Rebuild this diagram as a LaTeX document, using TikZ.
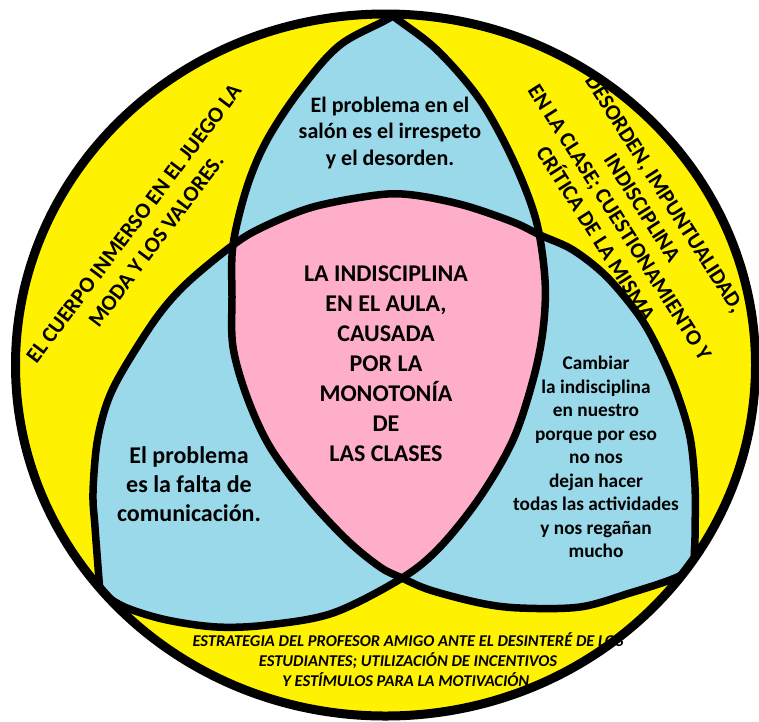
\documentclass[tikz,border=0pt]{standalone}
\usepackage{fontspec}
\setmainfont{Carlito}
\definecolor{vyellow}{RGB}{255,242,0}
\definecolor{vblue}{RGB}{153,217,234}
\definecolor{vpink}{RGB}{255,174,201}
\begin{document}
\begin{tikzpicture}[x=1pt,y=-1pt,
  outline/.style={line width=7.5pt,line join=round},
  rimline/.style={line width=9pt},
  txt/.style={align=center,inner sep=0pt,font=\bfseries},
]
\useasboundingbox (0,0) rectangle (759,721);
\def\outerpath{(385.5,365) ellipse [x radius=370pt, y radius=351pt]}
\def\Lpath{plot[smooth cycle,tension=0.55] coordinates {(393,16) (437,50) (480,100) (513,160) (536,220) (545,280) (543,330) (533,380) (513,440) (480,497) (440,547) (402,578) (333,613) (267,625) (217,627) (167,620) (127,608) (100,593) (40,560) (-30,470) (-60,320) (-40,150) (60,10) (220,-60) (340,-25)}}
\def\Rpath{plot[smooth cycle,tension=0.55] coordinates {(393,16) (340,45) (300,90) (267,140) (247,187) (233,245) (232,297) (233,347) (247,397) (270,447) (307,497) (347,540) (380,567) (402,578) (430,590) (480,603) (520,608) (580,607) (630,593) (670,580) (695,568) (745,540) (810,440) (830,300) (790,140) (680,20) (530,-40) (445,-20)}}
\def\Bpath{plot[smooth cycle,tension=0.55] coordinates {(100,593) (95,527) (93,493) (97,443) (107,403) (123,370) (157,317) (187,283) (233,245) (263,227) (313,207) (377,195) (413,195) (463,205) (513,222) (540,235) (573,250) (607,277) (640,317) (660,353) (677,393) (690,437) (695,487) (695,537) (695,568) (705,650) (640,770) (400,830) (170,770) (105,660)}}
% base
\fill[vyellow] \outerpath;
\begin{scope}
  \clip \outerpath;
  \begin{scope}\clip \Lpath; \fill[vblue] \Rpath; \end{scope}
  \begin{scope}\clip \Lpath; \fill[vblue] \Bpath; \end{scope}
  \begin{scope}\clip \Rpath; \fill[vblue] \Bpath; \end{scope}
  \begin{scope}\clip \Lpath; \clip \Rpath; \fill[vpink] \Bpath; \end{scope}
  \draw[outline] \Lpath;
  \draw[outline] \Rpath;
  \draw[outline] \Bpath;
\end{scope}
% texts
\node[txt,font=\bfseries\fontsize{24}{30}\selectfont] (center) at (386,364)
  {LA INDISCIPLINA\\EN EL AULA,\\CAUSADA\\POR LA\\MONOTONÍA\\DE\\LAS CLASES};
\node[txt,font=\bfseries\fontsize{22}{26.7}\selectfont] (top) at (390,133)
  {El problema en el\\salón es el irrespeto\\y el desorden.};
\node[txt,font=\bfseries\fontsize{24}{29}\selectfont] (left) at (189,484)
  {El problema\\es la falta de\\comunicación.};
\node[txt,font=\bfseries\fontsize{19.3}{23.5}\selectfont] (right) at (596,457)
  {Cambiar\\la indisciplina\\en nuestro\\porque por eso\\no nos\\dejan hacer\\todas las actividades\\y nos regañan\\mucho};
\node[txt,font=\bfseries\fontsize{22}{28}\selectfont,rotate=53] (ulabel) at (145,232)
  {EL CUERPO INMERSO EN EL JUEGO LA\\MODA Y LOS VALORES.};
\node[txt,font=\bfseries\fontsize{22}{26.6}\selectfont,rotate=-57.5] (rlabel) at (631,215)
  {DESORDEN, IMPUNTUALIDAD,\\INDISCIPLINA\\EN LA CLASE; CUESTIONAMIENTO Y\\CRÍTICA DE LA MISMA.};
\node[txt,font=\bfseries\itshape\fontsize{16.5}{20}\selectfont] (blabel) at (408,660)
  {ESTRATEGIA DEL PROFESOR AMIGO ANTE EL DESINTERÉ DE LOS\\ESTUDIANTES; UTILIZACIÓN DE INCENTIVOS\\Y ESTÍMULOS PARA LA MOTIVACIÓN.};
\draw[rimline] \outerpath;
\end{tikzpicture}
\end{document}
